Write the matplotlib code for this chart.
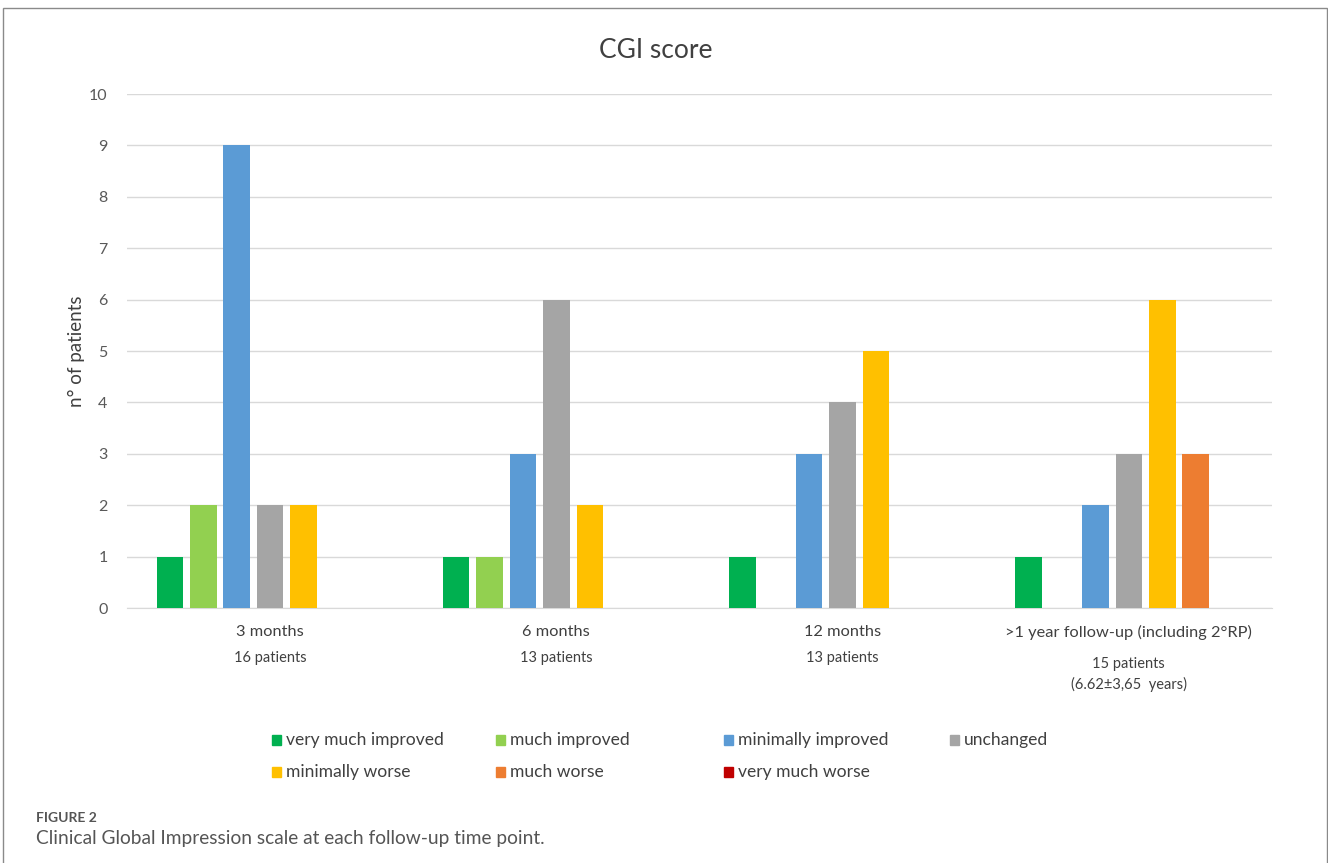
import matplotlib.pyplot as plt
from matplotlib.patches import Rectangle

# data
timepoints = ["3 months", "6 months", "12 months", ">1 year follow-up (including 2°RP)"]
sublabels = ["16 patients", "13 patients", "13 patients", "15 patients\n(6.62±3,65  years)"]
series = ["very much improved", "much improved", "minimally improved", "unchanged",
          "minimally worse", "much worse", "very much worse"]
very_much_improved = [1, 1, 1, 1]
much_improved = [2, 1, 0, 0]
minimally_improved = [9, 3, 3, 2]
unchanged = [2, 6, 4, 3]
minimally_worse = [2, 2, 5, 6]
much_worse = [0, 0, 0, 3]
very_much_worse = [0, 0, 0, 0]
values = [very_much_improved, much_improved, minimally_improved, unchanged,
          minimally_worse, much_worse, very_much_worse]
colors = ["#00B050", "#92D050", "#5B9BD5", "#A5A5A5", "#FFC000", "#ED7D31", "#C00000"]

W, H = 1328, 863
plt.rcParams['font.family'] = ['Lato', 'DejaVu Sans']
fig = plt.figure(figsize=(W / 100, H / 100), dpi=100)

ax = fig.add_axes([127 / W, 1 - 608 / H, (1272 - 127) / W, (608 - 94) / H])

slot = 33.4 / 286
bar_w = 26.5 / 286
for i, (vals, c) in enumerate(zip(values, colors)):
    xs = [g + (i - 3) * slot for g in range(len(timepoints))]
    ax.bar(xs, vals, width=bar_w, color=c, zorder=3)

ax.set_xlim(-0.5, len(timepoints) - 0.5)
ax.set_ylim(0, 10)
ax.set_yticks(range(0, 11))
ax.grid(axis='y', color='#D9D9D9', linewidth=1, zorder=0)
for s in ['top', 'right', 'left']:
    ax.spines[s].set_visible(False)
ax.spines['bottom'].set_color('#D9D9D9')
ax.tick_params(axis='y', length=0, labelsize=11.5, labelcolor='#595959', pad=14)
ax.tick_params(axis='x', length=0)
ax.set_xticks(range(len(timepoints)))
ax.set_xticklabels([])

for g, (t, s) in enumerate(zip(timepoints, sublabels)):
    ax.text(g, -0.47, t, ha='center', va='center', fontsize=11.8, color='#404040')
    if "\n" in s:
        ax.text(g, -1.3, s, ha='center', va='center', fontsize=10.5, color='#404040',
                linespacing=1.5)
    else:
        ax.text(g, -0.97, s, ha='center', va='center', fontsize=10.5, color='#404040')

ax.set_ylabel("n° of patients", fontsize=13.5, color='#404040', labelpad=3)
fig.text(656 / W, 1 - 51 / H, "CGI score", ha='center', va='center', fontsize=19, color='#404040')

# legend laid out like the Excel one (4 equal columns)
col_x = [277, 501, 729, 955]
row_y = [740, 772]
for i, (name, c) in enumerate(zip(series, colors)):
    x = col_x[i % 4]
    y = row_y[i // 4]
    fig.patches.append(Rectangle(((x - 5) / W, 1 - (y + 5) / H), 9 / W, 10 / H,
                                 transform=fig.transFigure, color=c))
    fig.text((x + 9) / W, 1 - y / H, name, ha='left', va='center', fontsize=12.6, color='#404040')

# frame around the chart image
fig.patches.append(Rectangle((3.5 / W, -0.01), (1326.5 - 3.5) / W, 1 - 8 / H + 0.01,
                             transform=fig.transFigure, fill=False, edgecolor='#8A8A8A', linewidth=1))

fig.text(36 / W, 1 - 818 / H, "FIGURE 2", ha='left', va='center', fontsize=10,
         fontweight='bold', color='#555555')
fig.text(36 / W, 1 - 838 / H, "Clinical Global Impression scale at each follow-up time point.",
         ha='left', va='center', fontsize=13.8, color='#555555')

fig.savefig("out.png", dpi=100)
